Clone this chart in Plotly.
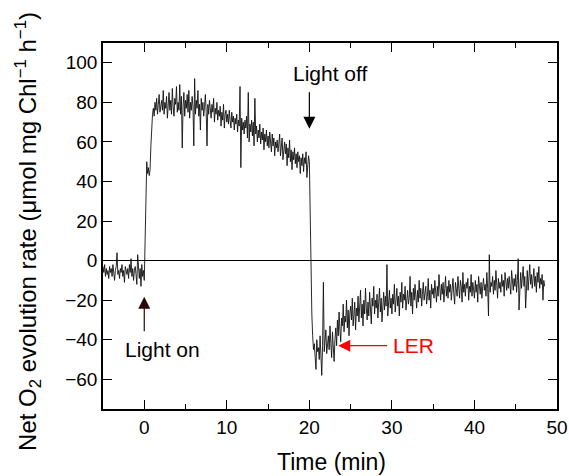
import plotly.graph_objects as go

# sampling grid of the recorded trace (min)
t_start = -5.0
t_step = 0.1

# dark baseline before light on (t = -5.0 ... -0.1)
dark_before = [
    -3, -6, -2, -8, -4, -7, -5, -9, -3, -6,
    -4, -8, -2, -6, -10, -5, -3, 4, -7, -5,
    -9, -4, -6, -2, -8, -5, -11, -3, -6, -7,
    -4, -9, -2, -6, 1, -8, -4, -10, -5, -3,
    -7, -12, 3, -6, -9, -4, -13, -2, -8, -5,
]
# light on transient (t = 0.0 ... 1.0)
light_rise = [-10, 10, 38, 50, 44, 47, 43, 46, 58, 70, 74]
# illuminated phase (t = 1.1 ... 20.0)
light_phase = [
    77, 73, 80, 76, 82, 74, 79, 84, 75, 78,
    81, 76, 86, 74, 80, 77, 83, 72, 79, 85,
    76, 81, 74, 87, 78, 73, 82, 79, 88, 75,
    80, 76, 89, 74, 83, 57, 78, 85, 73, 81,
    77, 84, 75, 86, 72, 80, 76, 83, 78, 58,
    92, 74, 81, 77, 86, 73, 79, 66, 82, 76,
    80, 73, 78, 84, 75, 58, 79, 74, 81, 76,
    72, 79, 75, 82, 70, 77, 74, 80, 71, 76,
    73, 78, 68, 75, 71, 79, 67, 74, 76, 70,
    74, 69, 76, 71, 67, 75, 70, 73, 66, 72,
    69, 74, 65, 71, 68, 88, 47, 72, 66, 70,
    64, 71, 67, 73, 62, 85, 60, 69, 65, 71,
    63, 70, 58, 82, 64, 68, 60, 66, 62, 69,
    59, 65, 61, 67, 56, 64, 60, 66, 58, 63,
    57, 65, 60, 55, 64, 58, 62, 53, 60, 57,
    61, 55, 59, 64, 53, 58, 62, 51, 57, 60,
    54, 59, 48, 57, 52, 61, 50, 56, 46, 55,
    51, 57, 49, 54, 47, 55, 50, 53, 44, 52,
    48, 54, 45, 52, 49, 55, 42, 51, 53, 50,
]
# dark phase after light off (t = 20.1 ... 48.5)
dark_after = [
    20, -15, -27, -38, -45, -42, -48, -55, -40, -46,
    -44, -50, -38, -48, -58, -43, -11, -46, -40, -35,
    -47, -41, -38, -45, -33, -42, -49, -36, -44, -51,
    -40, -34, -43, -30, -38, -26, -35, -41, -29, -33,
    -22, -36, -28, -31, -20, -34, -25, -38, -27, -23,
    -30, -19, -33, -26, -21, -35, -24, -28, -18, -31,
    -25, -15, -29, -22, -33, -20, -27, -14, -24, -30,
    -21, -28, -16, -25, -32, -19, -23, -13, -27, -20,
    -24, -17, -29, -21, -14, -26, -19, -31, -22, -16,
    -25, -18, -23, -2, -28, -20, -15, -24, -19, -27,
    -17, -22, -12, -26, -19, -14, -23, -18, -28, -16,
    -21, -11, -24, -17, -20, -13, -25, -18, -15, -22,
    -19, -8, -23, -16, -27, -14, -20, -12, -18, -24,
    -15, -21, -10, -19, -14, -23, -17, -11, -20, -16,
    -13, -22, -18, -9, -20, -15, -24, -12, -17, -14,
    -19, -10, -16, -21, -13, -18, -7, -15, -20, -12,
    -17, -11, -21, -14, -8, -18, -13, -19, -10, -16,
    -12, -20, -15, -9, -17, -22, -11, -14, -18, -8,
    -15, -19, -10, -13, -21, -6, -16, -12, -18, -11,
    -14, -9, -20, -13, -16, -7, -18, -11, -15, -19,
    -10, -16, -12, -21, -8, -14, -17, -11, -19, -13,
    -9, -15, -12, -18, -6, -14, -28, 3, -16, -11,
    -13, -8, -17, -10, -15, -5, -12, -19, -9, -14,
    -11, -16, -7, -13, -10, -18, -6, -12, -15, -9,
    -14, -8, -12, -17, -5, -11, -15, -9, -13, -7,
    -16, -10, 1, -25, -12, -6, -14, -9, -3, -13,
    -8, -24, -11, -5, -15, -9, -2, -12, -7, -14,
    -10, -4, -13, -8, -16, -6, -11, -3, -14, -9,
    -12, -7, -20, -10, -13,
]

rate = dark_before + light_rise + light_phase + dark_after
time = [round(t_start + i * t_step, 2) for i in range(len(rate))]

x_ticks = [0, 10, 20, 30, 40, 50]
y_ticks = [-60, -40, -20, 0, 20, 40, 60, 80, 100]

FONT = "Liberation Sans, Arial, sans-serif"

fig = go.Figure()
fig.add_trace(go.Scatter(x=time, y=rate, mode="lines",
                         line=dict(color="#111111", width=0.9),
                         showlegend=False, hoverinfo="skip"))

axis_common = dict(showline=True, linecolor="black", linewidth=1.6,
                   mirror="allticks", ticks="inside", ticklen=9,
                   tickwidth=1.4, tickcolor="black", showgrid=False,
                   ticklabeloverflow="allow", automargin=False,
                   tickfont=dict(family=FONT, size=19, color="black"))

fig.update_xaxes(range=[-5, 50], tickvals=x_ticks, zeroline=False,
                 minor=dict(dtick=5, tick0=0, ticks="inside", ticklen=5,
                            tickwidth=1.4, tickcolor="black", showgrid=False),
                 **axis_common)
fig.update_yaxes(range=[-75, 110], tickvals=y_ticks, zeroline=True,
                 zerolinecolor="black", zerolinewidth=1.4,
                 **axis_common)

ann = []
# axis titles
ann.append(dict(text="Time (min)", xref="paper", yref="paper", x=0.504, y=-0.145,
                xanchor="center", yanchor="middle", showarrow=False,
                font=dict(family=FONT, size=23, color="black")))
ann.append(dict(text="Net O<sub>2</sub> evolution rate (μmol mg Chl<sup>−1</sup> h<sup>−1</sup>)",
                xref="paper", yref="paper", x=-0.165, y=0.484, textangle=-90,
                xanchor="center", yanchor="middle", showarrow=False,
                font=dict(family=FONT, size=24, color="black")))
# labels
ann.append(dict(text="Light off", x=22.6, y=94.4, xref="x", yref="y", showarrow=False,
                font=dict(family=FONT, size=21, color="black")))
ann.append(dict(text="Light on", x=2.26, y=-45, xref="x", yref="y", showarrow=False,
                font=dict(family=FONT, size=21, color="black")))
ann.append(dict(text="LER", x=32.6, y=-43, xref="x", yref="y", showarrow=False,
                font=dict(family=FONT, size=21, color="#ff0000")))
# arrows
ann.append(dict(text="", x=20, y=66.7, ax=20, ay=85.9, xref="x", yref="y",
                axref="x", ayref="y", showarrow=True, arrowhead=2, arrowsize=2.0,
                arrowwidth=1.2, arrowcolor="black"))
ann.append(dict(text="", x=0, y=-18.2, ax=0, ay=-36.4, xref="x", yref="y",
                axref="x", ayref="y", showarrow=True, arrowhead=2, arrowsize=2.0,
                arrowwidth=1.2, arrowcolor="#2a0a0a"))
ann.append(dict(text="", x=23.5, y=-43, ax=29.6, ay=-43, xref="x", yref="y",
                axref="x", ayref="y", showarrow=True, arrowhead=2, arrowsize=2.0,
                arrowwidth=1.2, arrowcolor="#ff0000"))

fig.update_layout(width=569, height=476, margin=dict(l=103, r=12, t=43, b=67),
                  paper_bgcolor="white", plot_bgcolor="white",
                  font=dict(family=FONT, color="black"), annotations=ann)

# remove the default page margin so the figure fills the window exactly
fig.write_html("out.html",
               config={"displayModeBar": False},
               post_script="document.body.style.margin='0';"
                           "document.body.style.overflow='hidden';")
